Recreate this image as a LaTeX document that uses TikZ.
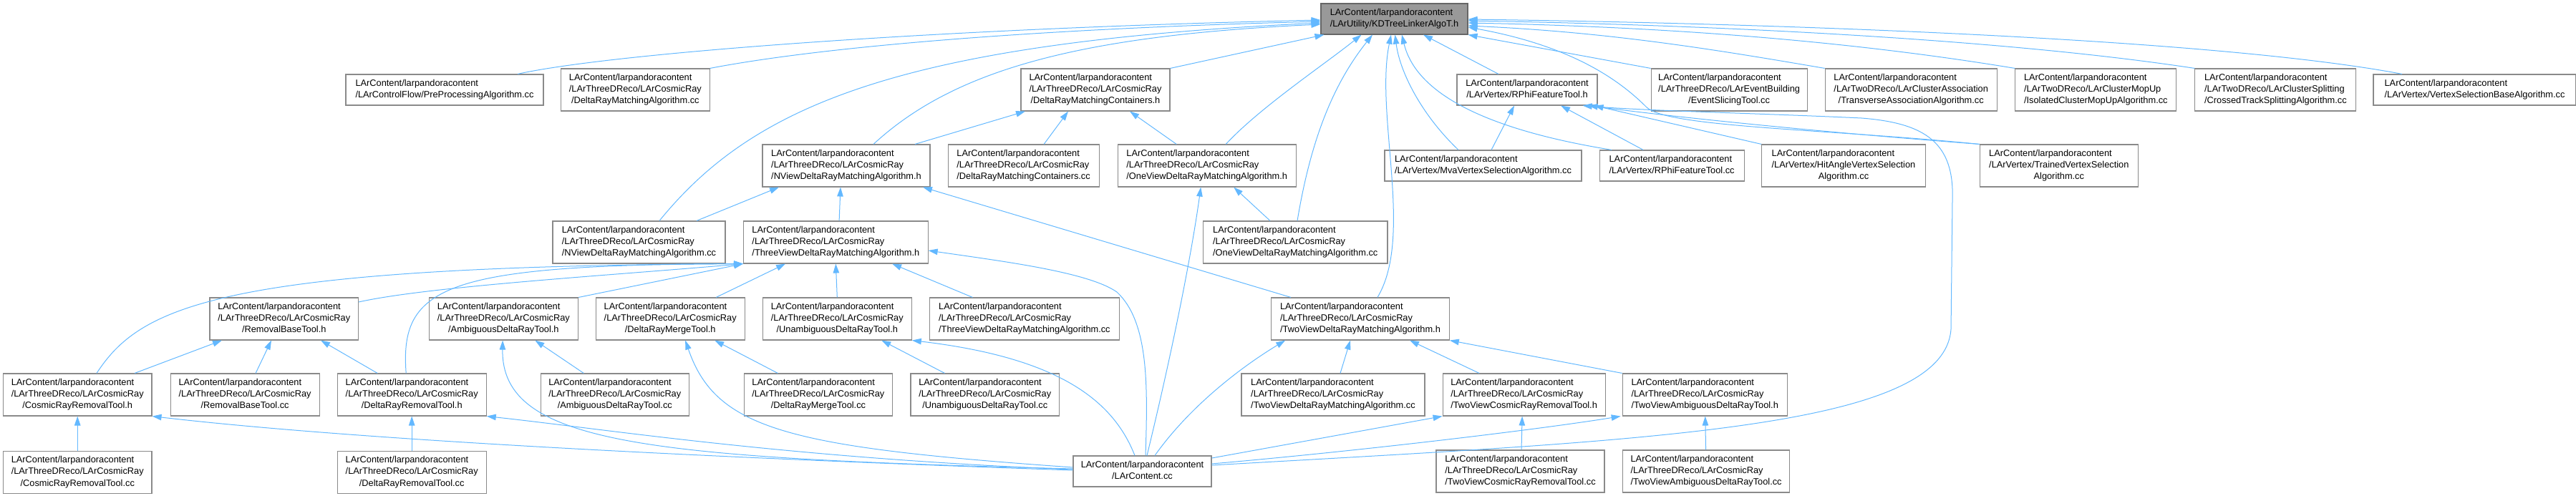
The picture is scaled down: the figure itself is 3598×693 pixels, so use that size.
\documentclass[tikz,border=0pt]{standalone}
\usepackage{fontspec}
\setsansfont{Liberation Sans}
\usetikzlibrary{positioning,arrows.meta}

\definecolor{edgeblue}{HTML}{63B8FF}
\definecolor{boxline}{HTML}{8A8A8A}
\definecolor{focusfill}{HTML}{999999}
\definecolor{focusline}{HTML}{666666}

% label: left aligned lines, last line centred
\newcommand{\incpath}[2]{\begin{tabular}{@{}l@{}}LArContent/larpandoracontent\\#1\\\multicolumn{1}{@{}c@{}}{#2}\end{tabular}}
\newcommand{\incshort}[1]{\begin{tabular}{@{}l@{}}LArContent/larpandoracontent\\\multicolumn{1}{@{}c@{}}{#1}\end{tabular}}
\newcommand{\cosmic}[1]{\incpath{/LArThreeDReco/LArCosmicRay}{#1}}

\begin{document}
\begin{tikzpicture}[
    x=1pt, y=-1pt,
    base/.style = {rectangle, draw=boxline, fill=white, line width=1.1pt,
inner sep=0pt},
    box3/.style = {base, minimum height=59pt},
    box2/.style = {base, minimum height=43pt},
    focus/.style = {box2, fill=focusfill, draw=focusline},
    dep/.style = {draw=edgeblue, line width=1pt, -{Triangle[length=13pt, width=8.5pt]}},
    node distance=24pt,
    every node/.style={font=\sffamily\fontsize{12.8}{16.2}\selectfont}
]
  \useasboundingbox (0,0) rectangle (3598,693);

  % row 0
  \node (kd) [focus, minimum width=205pt] at (1947.5,26.5) {\incshort{/LArUtility/KDTreeLinkerAlgoT.h}};

  % row 1
  \node (pre) [box2, minimum width=276pt] at (621,125.5) {\incshort{/LArControlFlow/PreProcessingAlgorithm.cc}};
  \node (drmcc) [box3, minimum width=207.5pt, right=23.5pt of pre] {\cosmic{/DeltaRayMatchingAlgorithm.cc}};
  \node (drmconth) [box3, minimum width=208pt] at (1530,125.5) {\cosmic{/DeltaRayMatchingContainers.h}};
  \node (rphih) [box2, minimum width=196pt] at (2133,125.5) {\incshort{/LArVertex/RPhiFeatureTool.h}};
  \node (slicing) [box3, minimum width=218pt, right=74pt of rphih] {\incpath{/LArThreeDReco/LArEventBuilding}{/EventSlicingTool.cc}};
  \node (transverse) [box3, minimum width=240pt, right=of slicing] {\incpath{/LArTwoDReco/LArClusterAssociation}{/TransverseAssociationAlgorithm.cc}};
  \node (mopup) [box3, minimum width=225pt, right=24.5pt of transverse] {\incpath{/LArTwoDReco/LArClusterMopUp}{/IsolatedClusterMopUpAlgorithm.cc}};
  \node (crossed) [box3, minimum width=225pt, right=25pt of mopup] {\incpath{/LArTwoDReco/LArClusterSplitting}{/CrossedTrackSplittingAlgorithm.cc}};
  \node (vsb) [box2, minimum width=283pt, right=23pt of crossed] {\incshort{/LArVertex/VertexSelectionBaseAlgorithm.cc}};

  % row 2
  \node (nviewh) [box3, minimum width=234pt] at (1182,231.5) {\cosmic{/NViewDeltaRayMatchingAlgorithm.h}};
  \node (drmcontcc) [box3, minimum width=211pt, right=of nviewh] {\cosmic{/DeltaRayMatchingContainers.cc}};
  \node (oneviewh) [box3, minimum width=249pt, right=25pt of drmcontcc] {\cosmic{/OneViewDeltaRayMatchingAlgorithm.h}};
  \node (mva) [box2, minimum width=275pt] at (2071.5,231.5) {\incshort{/LArVertex/MvaVertexSelectionAlgorithm.cc}};
  \node (rphicc) [box2, minimum width=202pt, right=of mva] {\incshort{/LArVertex/RPhiFeatureTool.cc}};
  \node (hitangle) [box3, minimum width=228.5pt, right=23.5pt of rphicc] {\incpath{/LArVertex/HitAngleVertexSelection}{Algorithm.cc}};
  \node (trained) [box3, minimum width=221pt, right=75pt of hitangle] {\incpath{/LArVertex/TrainedVertexSelection}{Algorithm.cc}};

  % row 3
  \node (nviewcc) [box3, minimum width=241pt] at (892.5,338.5) {\cosmic{/NViewDeltaRayMatchingAlgorithm.cc}};
  \node (threeviewh) [box3, minimum width=257.5pt, right=24.5pt of nviewcc] {\cosmic{/ThreeViewDeltaRayMatchingAlgorithm.h}};
  \node (oneviewcc) [box3, minimum width=257.5pt] at (1809.25,338.5) {\cosmic{/OneViewDeltaRayMatchingAlgorithm.cc}};

  % row 4
  \node (removalh) [box3, minimum width=207.5pt] at (396.75,445.5) {\cosmic{/RemovalBaseTool.h}};
  \node (ambigh) [box3, minimum width=208.5pt, right=97.5pt of removalh] {\cosmic{/AmbiguousDeltaRayTool.h}};
  \node (mergeh) [box3, minimum width=208pt, right=23.5pt of ambigh] {\cosmic{/DeltaRayMergeTool.h}};
  \node (unambigh) [box3, minimum width=208pt, right=of mergeh] {\cosmic{/UnambiguousDeltaRayTool.h}};
  \node (threeviewcc) [box3, minimum width=265pt, right=of unambigh] {\cosmic{/ThreeViewDeltaRayMatchingAlgorithm.cc}};
  \node (twoviewh) [box3, minimum width=248.5pt] at (1900,445.5) {\cosmic{/TwoViewDeltaRayMatchingAlgorithm.h}};

  % row 5
  \node (cosmich) [box3, minimum width=207.5pt] at (108.25,551.5) {\cosmic{/CosmicRayRemovalTool.h}};
  \node (removalcc) [box3, minimum width=208pt, right=25pt of cosmich] {\cosmic{/RemovalBaseTool.cc}};
  \node (deltaremh) [box3, minimum width=208pt, right=of removalcc] {\cosmic{/DeltaRayRemovalTool.h}};
  \node (ambigcc) [box3, minimum width=207pt, right=75pt of deltaremh] {\cosmic{/AmbiguousDeltaRayTool.cc}};
  \node (mergecc) [box3, minimum width=207pt, right=76pt of ambigcc] {\cosmic{/DeltaRayMergeTool.cc}};
  \node (unambigcc) [box3, minimum width=207.5pt, right=24.5pt of mergecc] {\cosmic{/UnambiguousDeltaRayTool.cc}};
  \node (twoviewcc) [box3, minimum width=256pt] at (1862,551.5) {\cosmic{/TwoViewDeltaRayMatchingAlgorithm.cc}};
  \node (twocosmich) [box3, minimum width=227pt, right=of twoviewcc] {\cosmic{/TwoViewCosmicRayRemovalTool.h}};
  \node (twoambigh) [box3, minimum width=230pt, right=23pt of twocosmich] {\cosmic{/TwoViewAmbiguousDeltaRayTool.h}};

  % row 6
  \node (cosmiccc) [box3, minimum width=207.5pt, below=48pt of cosmich] {\cosmic{/CosmicRayRemovalTool.cc}};
  \node (deltaremcc) [box3, minimum width=208pt, below=48pt of deltaremh] {\cosmic{/DeltaRayRemovalTool.cc}};
  \node (larcontent) [box2, minimum width=193pt] at (1595.5,658.5) {\incshort{/LArContent.cc}};
  \node (twocosmiccc) [box3, minimum width=235pt] at (2123.5,658.5) {\cosmic{/TwoViewCosmicRayRemovalTool.cc}};
  \node (twoambigcc) [box3, minimum width=233pt, right=24.5pt of twocosmiccc] {\cosmic{/TwoViewAmbiguousDeltaRayTool.cc}};

  % includers of KDTreeLinkerAlgoT.h
  \draw[dep] ([xshift=102pt]pre.north) .. controls (850,75) and (1300,40) .. ([yshift=-1.5pt]kd.west);
  \draw[dep] (drmcc.north east) .. controls (1150,65) and (1450,40) .. ([yshift=-3.5pt]kd.west);
  \draw[dep] ([xshift=28.5pt]nviewcc.north) .. controls (1050,150) and (1250,60) .. ([yshift=-5.5pt]kd.west);
  \draw[dep] ([xshift=38pt]nviewh.north) .. controls (1330,100) and (1500,50) .. ([yshift=-7.5pt]kd.west);
  \draw[dep] (drmconth.north east) -- ([xshift=5pt]kd.south west);
  \draw[dep] ([xshift=26.5pt]oneviewh.north) .. controls (1760,150) and (1850,90) .. ([xshift=-46pt]kd.south);
  \draw[dep] ([xshift=2.75pt]oneviewcc.north) .. controls (1830,200) and (1860,120) .. ([xshift=-30.5pt]kd.south);
  \draw[dep] ([xshift=24pt]twoviewh.north) .. controls (1975,330) and (1920,160) .. ([xshift=-4.5pt]kd.south);
  \draw[dep] ([xshift=-34.5pt]mva.north) .. controls (1985,160) and (1955,100) .. ([xshift=1pt]kd.south);
  \draw[dep] ([xshift=-84pt]rphicc.north) .. controls (2100,185) and (1980,140) .. ([xshift=10.5pt]kd.south);
  \draw[dep] ([xshift=-40pt]rphih.north) -- ([xshift=40.5pt]kd.south);
  \draw[dep] (trained.north west) .. controls (2550,180) and (2330,178) .. (2300,150)
    .. controls (2265,115) and (2200,65) .. ([yshift=-11.5pt]kd.east);
  \draw[dep] (slicing.north west) -- (kd.south east);
  \draw[dep] (transverse.north west) .. controls (2400,70) and (2250,45) .. ([yshift=-9.5pt]kd.east);
  \draw[dep] (mopup.north west) .. controls (2600,60) and (2350,38) .. ([yshift=-5.5pt]kd.east);
  \draw[dep] (crossed.north west) .. controls (2800,55) and (2400,35) .. ([yshift=-2.5pt]kd.east);
  \draw[dep] ([xshift=-101.5pt]vsb.north) .. controls (3100,55) and (2500,33) .. ([yshift=-0.5pt]kd.east);

  % DeltaRayMatchingContainers.h
  \draw[dep] ([xshift=96pt]nviewh.north) -- ([xshift=-98pt]drmconth.south);
  \draw[dep] ([xshift=28.5pt]drmcontcc.north) -- ([xshift=-38pt]drmconth.south);
  \draw[dep] ([xshift=-42.5pt]oneviewh.north) -- ([xshift=48pt]drmconth.south);

  % NViewDeltaRayMatchingAlgorithm.h
  \draw[dep] ([xshift=80.5pt]nviewcc.north) -- ([xshift=-94pt]nviewh.south);
  \draw[dep] ([xshift=4.75pt]threeviewh.north) -- ([xshift=-8pt]nviewh.south);
  \draw[dep] ([xshift=-97pt]twoviewh.north) -- ([xshift=107pt]nviewh.south);

  % OneViewDeltaRayMatchingAlgorithm.h
  \draw[dep] ([xshift=-35.25pt]oneviewcc.north) -- ([xshift=37.5pt]oneviewh.south);
  \draw[dep] ([xshift=6.5pt]larcontent.north) .. controls (1640,480) and (1665,350) .. ([xshift=-8.5pt]oneviewh.south);

  % RPhiFeatureTool.h
  \draw[dep] ([xshift=11.5pt]mva.north) -- ([xshift=-18pt]rphih.south);
  \draw[dep] ([xshift=-40pt]rphicc.north) -- ([xshift=47pt]rphih.south);
  \draw[dep] (hitangle.north west) -- ([xshift=-5pt]rphih.south east);
  \draw[dep] (trained.north west) .. controls (2550,185) and (2350,165) .. ([xshift=-13pt]rphih.south east);
  \draw[dep] ([yshift=8.5pt]larcontent.east) .. controls (2300,615) and (2715,600) .. (2725,460) -- (2727,280)
    .. controls (2730,200) and (2690,172) .. (2600,165)
    .. controls (2450,158) and (2300,155) .. ([xshift=-21pt]rphih.south east);

  % ThreeViewDeltaRayMatchingAlgorithm.h
  \draw[dep] ([yshift=-6.5pt]removalh.north east) .. controls (600,400) and (850,385) .. (threeviewh.south west);
  \draw[dep] ([xshift=26.75pt]cosmich.north) .. controls (195,430) and (300,372) .. (threeviewh.south west);
  \draw[dep] ([xshift=-8pt]deltaremh.north) .. controls (558,400) and (620,370) .. (threeviewh.south west);
  \draw[dep] (ambigh.north east) -- (threeviewh.south west);
  \draw[dep] ([xshift=64pt]mergeh.north) -- ([xshift=-70.25pt]threeviewh.south);
  \draw[dep] (unambigh.north) -- (threeviewh.south);
  \draw[dep] ([xshift=-72.5pt]threeviewcc.north) -- ([xshift=78.75pt]threeviewh.south);
  \draw[dep] ([xshift=4.5pt]larcontent.north) .. controls (1603,540) and (1605,450) .. (1560,408)
    .. controls (1520,380) and (1400,365) .. ([yshift=-11.5pt]threeviewh.east);

  % RemovalBaseTool.h
  \draw[dep] ([xshift=79.75pt]cosmich.north) -- ([xshift=-86.75pt]removalh.south);
  \draw[dep] ([xshift=15pt]removalcc.north) -- ([xshift=-17.75pt]removalh.south);
  \draw[dep] ([xshift=-48pt]deltaremh.north) -- ([xshift=51.25pt]removalh.south);

  % tools included by LArContent.cc
  \draw[dep] (cosmiccc) -- (cosmich);
  \draw[dep] ([yshift=1.5pt]larcontent.west) .. controls (1000,640) and (500,615) .. (cosmich.south east);
  \draw[dep] (deltaremcc) -- (deltaremh);
  \draw[dep] ([yshift=2.5pt]larcontent.west) .. controls (1100,640) and (850,600) .. (deltaremh.south east);
  \draw[dep] ([xshift=-43.5pt]ambigcc.north) -- ([xshift=44pt]ambigh.south);
  \draw[dep] ([yshift=3.5pt]larcontent.west) .. controls (900,640) and (700,620) .. ([xshift=-1.25pt]ambigh.south);
  \draw[dep] ([xshift=-56.5pt]mergecc.north) -- ([xshift=62pt]mergeh.south);
  \draw[dep] ([yshift=5.5pt]larcontent.west) .. controls (1100,625) and (1000,600) .. ([xshift=21pt]mergeh.south);
  \draw[dep] ([xshift=-56.25pt]unambigcc.north) -- ([xshift=62pt]unambigh.south);
  \draw[dep] ([xshift=-10.5pt]larcontent.north) .. controls (1555,560) and (1480,500) .. (unambigh.south east);

  % TwoViewDeltaRayMatchingAlgorithm.h
  \draw[dep] ([xshift=10pt]twoviewcc.north) -- ([xshift=-14pt]twoviewh.south);
  \draw[dep] ([xshift=-62.5pt]twocosmich.north) -- ([xshift=69pt]twoviewh.south);
  \draw[dep] (twoambigh.north west) -- (twoviewh.south east);
  \draw[dep] ([xshift=17.5pt]larcontent.north) .. controls (1660,570) and (1730,515) .. ([xshift=20pt]twoviewh.south west);

  % two view tools
  \draw[dep] ([xshift=1.5pt]twocosmiccc.north) -- ([xshift=-2.5pt]twocosmich.south);
  \draw[dep] ([yshift=18.5pt]larcontent.east) -- (twocosmich.south west);
  \draw[dep] (twoambigcc) -- (twoambigh);
  \draw[dep] ([yshift=10.5pt]larcontent.east) .. controls (1900,630) and (2150,600) .. ([xshift=-2pt]twoambigh.south west);

\end{tikzpicture}
\end{document}
